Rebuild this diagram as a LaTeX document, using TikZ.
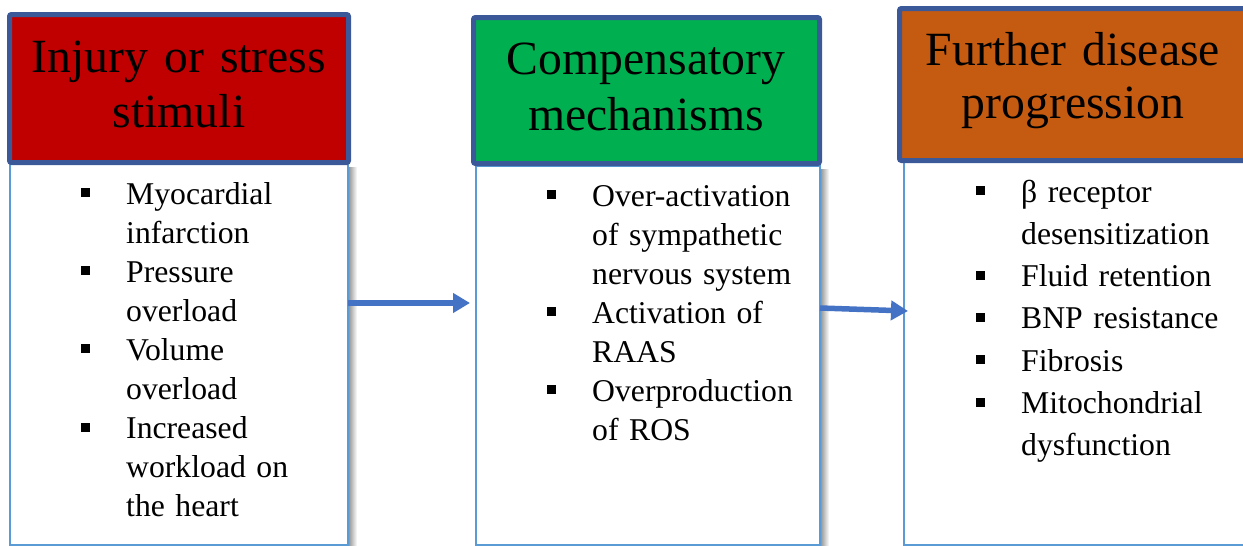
\documentclass[tikz,border=0pt]{standalone}
\usepackage{fontspec}
\setmainfont{Liberation Serif}
\usetikzlibrary{arrows.meta,calc}
\definecolor{cred}{HTML}{C00000}
\definecolor{cgreen}{HTML}{00B050}
\definecolor{corange}{HTML}{C55A11}
\definecolor{hdrborder}{RGB}{59,89,152}
\definecolor{bodyborder}{HTML}{5B9BD5}
\definecolor{arrowblue}{HTML}{4472C4}
\newcommand\bitem[1]{\hangindent=45pt\hangafter=1\noindent\makebox[45pt][l]{\raisebox{7pt}{\rule{9pt}{9pt}}}#1\par}
\tikzset{
  hdr/.style={draw=hdrborder, line width=5pt, rounded corners=2pt, outer sep=0pt, inner sep=0pt},
  bodybox/.style={draw=bodyborder, line width=2pt, fill=white, outer sep=0pt, inner sep=0pt},
  title/.style={anchor=base, inner sep=0pt, align=center, text width=340pt},
  listtxt/.style={anchor=base west, inner sep=0pt, text width=300pt},
  arr/.style={draw=arrowblue, line width=5.5pt, -{Triangle[length=17pt,width=19pt]}},
  shadowstrip/.style={left color=black!45, right color=white, draw=none}
}
\begin{document}
\begin{tikzpicture}[x=1pt,y=-1pt]
\useasboundingbox (0,0) rectangle (1243,546);
\fill[white] (0,0) rectangle (1243,546);
% shadows
\shade[shadowstrip] (348,167) rectangle (357,546);
\shade[shadowstrip] (820,169) rectangle (829,546);
% body boxes
\node[bodybox, minimum width=338, minimum height=381] (b1) at (179,354.5) {};
\node[bodybox, minimum width=344, minimum height=379] (b2) at (648,355.5) {};
\node[bodybox, minimum width=348, minimum height=383] (b3) at (1078,353.5) {};
% headers
\node[hdr, fill=cred, minimum width=339, minimum height=148] (h1) at (179,88.5) {};
\node[hdr, fill=cgreen, minimum width=346, minimum height=146] (h2) at (646.5,90.5) {};
\node[hdr, fill=corange, minimum width=350.5, minimum height=152] (h3) at (1074.75,84.5) {};
% titles
\node[title, font=\fontsize{47.7}{55}\selectfont] (t1) at (179,72) {Injury or stress\\stimuli};
\node[title, font=\fontsize{47.7}{56}\selectfont] (t2) at (646,74) {Compensatory\\mechanisms};
\node[title, font=\fontsize{47.7}{53}\selectfont] (t3) at (1073,65) {Further disease\\progression};
% lists
\node[listtxt, font=\fontsize{31.7}{39.1}\selectfont] (l1) at (81,204) {%
\bitem{Myocardial\newline infarction}%
\bitem{Pressure\newline overload}%
\bitem{Volume\newline overload}%
\bitem{Increased\newline workload on\newline the heart}};
\node[listtxt, font=\fontsize{31.7}{39}\selectfont] (l2) at (547,206) {%
\bitem{Over-activation\newline of sympathetic\newline nervous system}%
\bitem{Activation of\newline RAAS}%
\bitem{Overproduction\newline of ROS}};
\node[listtxt, font=\fontsize{31.7}{42.3}\selectfont] (l3) at (976,202) {%
\bitem{β receptor\newline desensitization}%
\bitem{Fluid retention}%
\bitem{BNP resistance}%
\bitem{Fibrosis}%
\bitem{Mitochondrial\newline dysfunction}};
% arrows
\draw[arr] (b1.east |- 0,303) -- ($(b2.west |- 0,303)+(-6,0)$);
\draw[arr] (b2.east |- 0,308) -- ($(b3.west |- 0,311)+(4,0)$);
\end{tikzpicture}
\end{document}
